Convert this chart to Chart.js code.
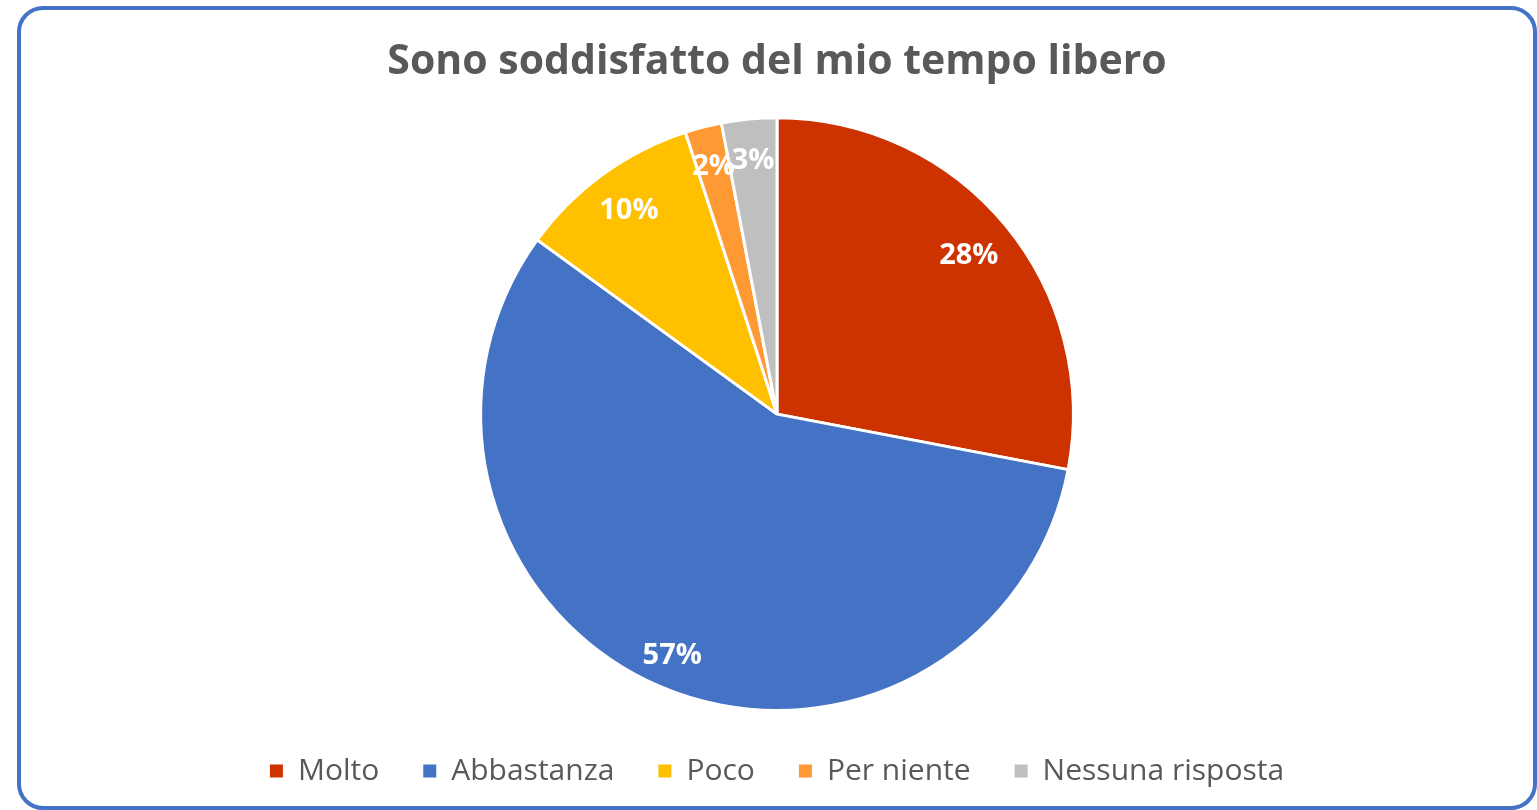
<!DOCTYPE html>
<html>
<head>
<meta charset="utf-8">
<script src="https://cdn.jsdelivr.net/npm/chart.js@4"></script>
<style>
  html, body { margin: 0; padding: 0; background: #fff; }
  body { width: 1537px; height: 810px; position: relative; overflow: hidden; }
  #frame {
    position: absolute;
    left: 17px; top: 6px;
    width: 1520px; height: 804px;
    box-sizing: border-box;
    border: 4px solid #4472C4;
    border-radius: 26px;
    overflow: hidden;
  }
  #wrap { position: absolute; left: 0; top: 0; width: 1512px; height: 796px; }
</style>
</head>
<body>
<div id="frame">
  <div id="wrap"><canvas id="pieChart"></canvas></div>
</div>
<script>
const categories = ["Molto", "Abbastanza", "Poco", "Per niente", "Nessuna risposta"];
const shares = [28, 57, 10, 2, 3];
const sliceColors = ["#CC3300", "#4472C4", "#FFC000", "#FF9933", "#BFBFBF"];

const FONT = "'Open Sans', 'Noto Sans', sans-serif";

// labels drawn on each slice, like Excel data labels
const sliceLabels = {
    id: "sliceLabels",
    afterDatasetsDraw(chart, args, opts) {
        const ctx = chart.ctx;
        const meta = chart.getDatasetMeta(0);
        const total = shares.reduce((a, b) => a + b, 0);
        ctx.save();
        ctx.font = opts.font;
        ctx.fillStyle = opts.color;
        ctx.textAlign = "center";
        ctx.textBaseline = "middle";
        meta.data.forEach((arc, i) => {
            const p = arc.getProps(["x", "y", "startAngle", "endAngle", "outerRadius"], true);
            const a = (p.startAngle + p.endAngle) / 2;
            const r = p.outerRadius * (opts.radius[i] ?? 0.85);
            const pct = Math.round(shares[i] / total * 100) + "%";
            ctx.fillText(pct, p.x + Math.cos(a) * r, p.y + Math.sin(a) * r);
        });
        ctx.restore();
    }
};

new Chart(document.getElementById("pieChart"), {
    type: "pie",
    data: {
        labels: categories,
        datasets: [{
            data: shares,
            backgroundColor: sliceColors,
            borderColor: "#ffffff",
            borderWidth: 3
        }]
    },
    options: {
        responsive: true,
        maintainAspectRatio: false,
        animation: false,
        layout: { padding: { top: 28, bottom: 10 } },
        plugins: {
            title: {
                display: true,
                text: "Sono soddisfatto del mio tempo libero",
                color: "#595959",
                font: { family: FONT, size: 41, weight: "bold", lineHeight: 1.2 },
                padding: { top: 0, bottom: 29 }
            },
            legend: {
                position: "bottom",
                labels: {
                    color: "#595959",
                    font: { family: FONT, size: 30 },
                    boxWidth: 13,
                    boxHeight: 13,
                    padding: 44,
                    generateLabels(chart) {
                        return categories.map((c, i) => ({
                            text: c,
                            fillStyle: sliceColors[i],
                            strokeStyle: sliceColors[i],
                            lineWidth: 0,
                            fontColor: "#595959",
                            hidden: false,
                            index: i
                        }));
                    }
                }
            },
            tooltip: { enabled: false },
            sliceLabels: {
                font: "bold 29px " + FONT,
                color: "#ffffff",
                radius: [0.84, 0.89, 0.85, 0.86, 0.86]
            }
        }
    },
    plugins: [sliceLabels]
});
</script>
</body>
</html>
